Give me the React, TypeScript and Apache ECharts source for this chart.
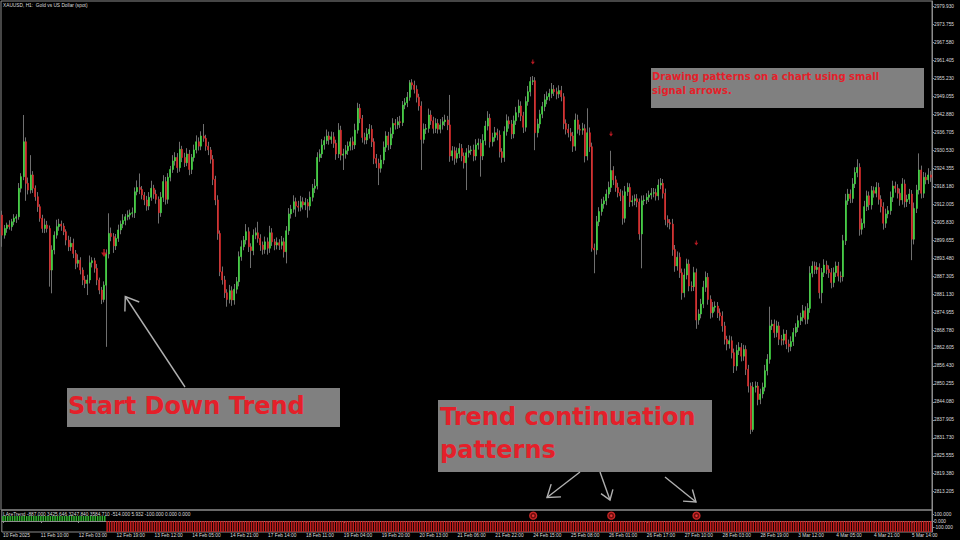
import React, { useEffect, useRef } from 'react';
import * as echarts from 'echarts';

// ---------- data ----------
const FIRST_OPEN = 2908.3;

const CLOSES: number[] = [
  2901.4, 2903.7, 2904.9, 2904.3, 2906.0, 2907.2, 2907.7, 2917.5, 2921.5, 2933.5,
  2919.2, 2916.9, 2922.1, 2917.5, 2914.6, 2911.2, 2907.2, 2903.7, 2904.9, 2903.7,
  2889.4, 2896.3, 2901.4, 2904.3, 2905.2, 2904.5, 2902.6, 2899.7, 2897.4, 2898.6,
  2895.1, 2891.7, 2892.8, 2889.4, 2886.0, 2884.8, 2886.0, 2891.9, 2892.6, 2890.0,
  2886.0, 2882.5, 2879.3, 2884.2, 2894.9, 2902.0, 2900.9, 2897.7, 2900.3, 2903.2,
  2905.2, 2906.4, 2907.7, 2908.3, 2908.9, 2909.1, 2916.3, 2917.8, 2917.1, 2915.2,
  2913.5, 2911.4, 2914.4, 2917.5, 2915.5, 2913.7, 2909.1, 2914.4, 2919.8, 2913.7,
  2921.3, 2924.0, 2926.9, 2928.1, 2924.6, 2930.9, 2928.1, 2926.3, 2929.3, 2924.0,
  2928.1, 2930.7, 2933.5, 2932.0, 2935.5, 2934.7, 2932.0, 2930.7, 2927.5, 2920.6,
  2913.5, 2902.0, 2888.8, 2886.0, 2881.6, 2879.3, 2882.3, 2879.1, 2882.8, 2885.4,
  2894.0, 2897.4, 2899.7, 2902.6, 2897.4, 2896.1, 2901.4, 2902.2, 2900.3, 2898.0,
  2896.5, 2899.1, 2896.9, 2902.2, 2899.1, 2898.0, 2898.8, 2897.9, 2899.1, 2895.7,
  2902.9, 2908.7, 2910.3, 2912.9, 2911.4, 2911.0, 2912.9, 2911.8, 2912.6, 2911.4,
  2914.4, 2917.5, 2918.3, 2928.1, 2929.3, 2932.4, 2933.9, 2935.5, 2934.3, 2935.2,
  2933.0, 2929.3, 2937.5, 2928.9, 2929.3, 2930.4, 2932.0, 2933.5, 2932.4, 2937.5,
  2945.0, 2941.5, 2935.0, 2934.1, 2936.2, 2937.8, 2933.5, 2927.8, 2926.1, 2924.4,
  2927.2, 2931.6, 2935.5, 2932.4, 2936.2, 2939.8, 2939.3, 2940.4, 2940.1, 2946.1,
  2946.9, 2948.8, 2953.8, 2953.0, 2951.5, 2948.8, 2945.8, 2934.3, 2937.8, 2938.1,
  2942.7, 2940.7, 2938.1, 2939.8, 2937.8, 2939.3, 2940.4, 2941.0, 2939.3, 2928.6,
  2930.4, 2927.8, 2929.5, 2931.2, 2928.6, 2926.3, 2929.7, 2930.4, 2930.7, 2928.6,
  2932.4, 2933.0, 2928.6, 2933.9, 2938.9, 2941.6, 2933.5, 2935.0, 2936.6, 2935.8,
  2930.1, 2928.1, 2937.0, 2940.7, 2939.6, 2936.2, 2940.7, 2943.5, 2945.8, 2942.4,
  2938.5, 2947.3, 2950.7, 2954.2, 2954.5, 2936.6, 2939.6, 2943.0, 2945.6, 2947.9,
  2949.0, 2950.1, 2951.5, 2950.7, 2949.9, 2951.1, 2949.0, 2939.8, 2937.8, 2936.6,
  2935.5, 2932.0, 2941.0, 2937.8, 2937.5, 2938.0, 2928.6, 2936.6, 2931.8, 2896.9,
  2896.3, 2906.0, 2909.5, 2912.1, 2913.2, 2915.5, 2917.8, 2923.6, 2920.4, 2917.8,
  2916.0, 2914.9, 2907.2, 2916.3, 2917.8, 2912.9, 2913.2, 2913.9, 2912.8, 2901.8,
  2913.2, 2913.5, 2914.4, 2915.2, 2915.8, 2916.0, 2914.9, 2918.6, 2919.2, 2915.8,
  2906.8, 2905.7, 2905.2, 2896.5, 2890.8, 2893.8, 2888.5, 2881.6, 2887.7, 2891.5,
  2883.9, 2883.7, 2888.5, 2872.2, 2874.3, 2877.7, 2883.5, 2886.9, 2879.3, 2874.7,
  2876.6, 2877.0, 2874.7, 2873.6, 2870.2, 2865.6, 2864.0, 2865.1, 2861.0, 2856.4,
  2861.7, 2862.8, 2859.8, 2862.1, 2855.3, 2849.5, 2834.6, 2849.1, 2849.5, 2844.9,
  2846.8, 2849.1, 2854.8, 2858.7, 2870.2, 2870.8, 2867.9, 2870.2, 2865.6, 2865.3,
  2867.4, 2864.0, 2863.1, 2864.8, 2867.9, 2869.7, 2872.0, 2873.1, 2875.4, 2872.5,
  2876.2, 2888.3, 2890.8, 2889.6, 2890.3, 2881.6, 2888.5, 2891.1, 2889.6, 2888.5,
  2885.1, 2888.5, 2890.8, 2887.3, 2887.1, 2899.5, 2913.2, 2915.5, 2914.0, 2919.0,
  2922.9, 2924.7, 2903.4, 2905.5, 2911.2, 2914.9, 2911.8, 2916.7, 2915.8, 2917.8,
  2913.7, 2911.2, 2905.5, 2908.7, 2909.8, 2914.4, 2918.3, 2917.5, 2915.8, 2913.5,
  2919.0, 2912.9, 2913.7, 2915.5, 2900.0, 2910.6, 2916.9, 2923.8, 2915.8, 2921.3,
  2920.4, 2922.1, 2921.3,
];

const UPPER_WICK: number[] = [
  1.5, 1.2, 0.8, 1.6, 1.0, 1.4, 0.9, 1.8, 1.2, 9.2,
  1.5, 2.0, 6.8, 1.3, 1.0, 1.6, 0.8, 1.2, 2.2, 1.4,
  1.0, 1.6, 1.3, 2.4, 1.8, 1.2, 1.0, 0.8, 1.5, 2.2,
  1.6, 1.2, 2.0, 1.0, 0.9, 1.4, 1.8, 2.5, 1.2, 1.0,
  1.5, 0.8, 1.1, 1.3, 1.6, 6.9, 2.0, 1.2, 1.5, 1.8,
  1.2, 2.2, 1.0, 1.6, 1.3, 1.8, 1.5, 2.4, 4.8, 1.2,
  1.0, 1.4, 1.8, 2.6, 1.2, 1.5, 1.0, 1.8, 2.2, 1.6,
  1.4, 1.2, 2.0, 1.8, 1.5, 2.6, 1.2, 1.6, 2.0, 1.4,
  1.2, 1.8, 2.2, 1.5, 1.6, 4.1, 1.2, 1.5, 1.0, 1.4,
  1.2, 1.6, 1.0, 1.8, 1.4, 1.2, 2.0, 1.5, 1.8, 1.6,
  1.8, 2.2, 1.4, 2.6, 1.5, 1.2, 2.0, 1.8, 3.8, 1.4,
  1.2, 1.8, 1.5, 2.4, 1.6, 1.0, 1.8, 1.2, 2.0, 1.4,
  1.6, 2.0, 1.5, 2.2, 1.4, 1.8, 2.0, 1.5, 1.6, 1.2,
  2.0, 1.5, 2.4, 1.8, 1.6, 2.0, 1.4, 2.2, 1.5, 1.8,
  1.6, 1.2, 2.4, 1.5, 1.8, 2.0, 1.6, 1.4, 1.8, 2.2,
  1.9, 1.5, 1.2, 1.6, 2.0, 1.8, 1.4, 1.2, 1.5, 1.6,
  1.8, 2.0, 1.6, 1.4, 2.2, 1.8, 1.5, 1.6, 2.0, 1.4,
  1.6, 1.8, 0.9, 1.2, 1.5, 1.4, 1.2, 1.6, 2.0, 1.5,
  2.2, 1.6, 1.4, 1.8, 1.5, 2.0, 1.6, 1.8, 1.4, 10.3,
  1.6, 1.4, 2.0, 1.8, 1.5, 1.2, 1.6, 2.0, 1.4, 1.8,
  2.0, 1.6, 1.4, 2.2, 1.8, 2.4, 1.5, 1.6, 2.0, 1.4,
  1.6, 1.2, 1.8, 2.2, 1.5, 1.4, 1.8, 2.0, 2.2, 1.6,
  1.4, 1.8, 2.0, 1.6, 1.6, 1.2, 1.8, 1.5, 1.6, 2.0,
  1.8, 1.6, 2.2, 1.5, 1.4, 1.8, 1.6, 1.2, 1.4, 1.8,
  1.6, 1.4, 2.2, 1.8, 1.6, 2.0, 1.5, 8.4, 1.8, 1.4,
  1.6, 2.0, 1.5, 1.8, 1.4, 1.6, 2.0, 6.8, 1.5, 1.4,
  1.6, 1.2, 1.8, 2.0, 1.6, 1.4, 1.8, 1.5, 1.6, 1.2,
  1.8, 1.6, 1.4, 1.5, 1.8, 1.6, 1.4, 2.0, 1.8, 1.5,
  1.6, 1.4, 1.2, 1.8, 1.5, 2.0, 1.6, 1.4, 2.2, 1.8,
  1.5, 1.6, 2.0, 1.4, 1.6, 1.8, 2.2, 2.0, 1.5, 1.4,
  1.8, 1.6, 1.4, 1.5, 1.6, 1.4, 1.2, 1.8, 1.5, 1.4,
  2.0, 1.8, 1.5, 1.6, 1.4, 1.5, 1.2, 1.8, 1.6, 1.4,
  1.8, 1.6, 2.0, 1.8, 6.6, 1.5, 1.6, 1.8, 1.4, 1.5,
  1.6, 1.4, 1.5, 1.8, 1.6, 1.4, 1.8, 1.6, 2.0, 1.5,
  1.8, 2.4, 1.6, 1.5, 1.8, 1.4, 1.6, 2.0, 1.5, 1.4,
  1.6, 1.8, 1.5, 1.4, 1.6, 2.0, 2.4, 1.8, 1.6, 2.0,
  1.8, 2.8, 1.4, 1.6, 2.0, 1.8, 1.5, 1.6, 1.4, 1.8,
  1.6, 1.4, 1.5, 1.8, 1.6, 2.0, 1.8, 1.5, 1.4, 1.6,
  2.0, 1.5, 1.6, 1.8, 1.4, 2.0, 1.8, 5.7, 1.5, 1.8,
  1.6, 2.3, 1.4,
];

const LOWER_WICK: number[] = [
  4.0, 1.2, 1.5, 1.0, 1.4, 1.2, 1.6, 1.0, 1.4, 1.2,
  6.0, 1.5, 1.2, 1.6, 1.4, 1.8, 1.2, 1.5, 1.6, 1.4,
  5.7, 8.0, 1.5, 1.2, 1.4, 1.6, 1.2, 1.8, 1.5, 1.4,
  1.6, 2.0, 1.4, 1.5, 1.8, 1.6, 4.0, 1.2, 1.6, 1.5,
  1.8, 1.4, 1.6, 1.0, 21.2, 1.5, 1.6, 2.4, 1.4, 1.2,
  1.5, 1.4, 1.6, 1.2, 1.5, 1.4, 1.8, 1.2, 1.6, 1.5,
  1.8, 1.6, 1.4, 1.2, 1.6, 1.5, 3.7, 1.4, 1.6, 1.8,
  1.5, 1.4, 1.2, 1.6, 1.8, 1.4, 1.6, 1.5, 1.2, 2.0,
  1.6, 1.4, 1.2, 1.5, 1.4, 1.2, 1.6, 1.8, 1.5, 2.0,
  1.8, 2.2, 1.5, 1.6, 1.8, 2.5, 1.4, 2.0, 1.6, 1.5,
  1.6, 1.4, 1.2, 1.5, 1.8, 6.0, 1.6, 1.4, 1.5, 2.0,
  1.8, 1.5, 2.2, 1.6, 1.4, 1.8, 1.5, 1.6, 1.4, 2.0,
  4.0, 1.4, 1.6, 1.2, 3.7, 1.5, 1.4, 1.6, 1.8, 4.0,
  1.5, 1.4, 1.6, 1.2, 1.5, 1.4, 1.6, 1.2, 1.8, 1.5,
  1.6, 2.0, 1.4, 1.8, 5.1, 1.6, 1.4, 1.5, 1.8, 1.4,
  1.2, 1.6, 1.8, 1.5, 1.4, 1.6, 1.8, 2.0, 1.6, 5.8,
  1.5, 1.4, 1.6, 1.8, 1.4, 1.5, 1.6, 1.4, 1.8, 1.2,
  1.4, 1.5, 1.2, 1.6, 1.4, 1.8, 1.6, 10.5, 1.4, 1.6,
  1.5, 1.4, 1.8, 1.6, 1.5, 1.4, 1.6, 1.5, 1.8, 2.0,
  1.6, 2.2, 1.5, 1.6, 1.8, 2.0, 9.4, 1.6, 1.4, 1.8,
  1.5, 1.6, 7.1, 1.4, 1.6, 1.5, 2.0, 1.6, 1.4, 1.8,
  2.0, 1.8, 1.5, 1.4, 1.6, 1.8, 1.5, 1.4, 1.6, 1.8,
  2.0, 1.5, 1.4, 1.6, 1.2, 6.0, 1.6, 1.5, 1.4, 1.6,
  1.5, 1.4, 1.6, 1.5, 1.8, 1.4, 1.6, 2.0, 1.8, 1.6,
  1.8, 2.0, 1.6, 1.5, 1.8, 1.6, 2.2, 1.5, 1.8, 1.2,
  8.0, 1.6, 1.5, 1.4, 1.6, 1.5, 1.4, 1.6, 1.8, 1.5,
  1.6, 1.8, 2.2, 1.5, 1.4, 1.8, 1.6, 1.5, 1.8, 2.0,
  11.8, 1.5, 1.4, 1.6, 1.5, 1.4, 1.6, 1.5, 1.4, 1.8,
  2.0, 1.6, 1.8, 2.2, 2.0, 1.6, 1.8, 2.4, 1.6, 1.5,
  1.8, 1.6, 1.5, 3.0, 1.6, 1.5, 1.4, 1.6, 1.8, 2.0,
  1.6, 1.5, 1.8, 1.6, 2.0, 1.8, 2.2, 1.6, 2.0, 2.4,
  1.6, 1.5, 1.8, 1.6, 2.0, 2.2, 1.6, 0.8, 1.8, 2.0,
  1.6, 1.5, 1.4, 1.6, 1.5, 1.4, 1.8, 1.6, 2.0, 1.8,
  1.6, 1.8, 2.0, 1.6, 1.5, 1.4, 1.6, 1.5, 1.4, 1.8,
  1.6, 1.5, 1.4, 1.6, 1.5, 2.0, 3.6, 1.5, 1.6, 1.8,
  2.0, 1.6, 1.5, 1.8, 2.0, 1.6, 1.5, 1.4, 1.6, 1.5,
  1.4, 1.6, 2.2, 1.8, 1.6, 1.5, 1.8, 1.6, 1.5, 1.4,
  1.8, 2.0, 2.2, 1.6, 1.5, 1.4, 1.6, 1.5, 1.8, 2.0,
  1.6, 2.0, 1.8, 1.6, 7.2, 1.8, 1.6, 1.5, 1.8, 1.6,
  1.5, 1.4, 1.6,
];

const TIME_LABELS: string[] = [
  '10 Feb 2025', '11 Feb 10:00', '12 Feb 03:00', '12 Feb 19:00', '13 Feb 12:00',
  '14 Feb 05:00', '14 Feb 21:00', '17 Feb 14:00', '18 Feb 11:00', '19 Feb 04:00',
  '19 Feb 20:00', '20 Feb 13:00', '21 Feb 06:00', '21 Feb 22:00', '24 Feb 15:00',
  '25 Feb 08:00', '26 Feb 01:00', '26 Feb 17:00', '27 Feb 10:00', '28 Feb 03:00',
  '28 Feb 19:00', '3 Mar 12:00', '4 Mar 05:00', '4 Mar 21:00', '5 Mar 14:00',
];
const BARS_PER_LABEL = 16;

const PRICE_TICKS: number[] = [
  2979.93, 2973.755, 2967.58, 2961.405, 2955.23, 2949.055, 2942.88, 2936.705,
  2930.53, 2924.355, 2918.18, 2912.005, 2905.83, 2899.655, 2893.48, 2887.305,
  2881.13, 2874.955, 2868.78, 2862.605, 2856.43, 2850.255, 2844.08, 2837.905,
  2831.73, 2825.555, 2819.38, 2813.205,
];
const PRICE_MIN = 2806.91;
const PRICE_MAX = 2981.89;

const SUB_TICKS: number[] = [100, 0, -100];
const SUB_MIN = -165;
const SUB_MAX = 165;
// indicator histogram as runs: [number of bars, value]
const TREND_RUNS: [number, number][] = [[44, 75], [349, -165]];

const SIGNAL_BARS: number[] = [43, 224, 257, 293];
const SIGNAL_PRICES: number[] = [2895.3, 2960.9, 2936.2, 2898.7];
const DOT_BARS: number[] = [224, 257, 293];
const DOT_LEVEL = 80;

const TITLE = 'XAUUSD, H1:  Gold vs US Dollar (spot)';
const INDICATOR_TEXT =
  'LAreTrend -887.000 3425.646 3247.840 3584.710 -514.000 5.932 -100.000 0.000 0.000';
const NOTE_LINES = ['Drawing patterns on a chart using small', 'signal arrows.'];
const START_TEXT = 'Start Down Trend';
const CONT_LINES = ['Trend continuation', 'patterns'];

// ---------- styles ----------
const BULL = '#44dd44';
const BEAR = '#e02c2c';
const WICK = '#7c7c7c';
const AXIS = '#8c8c8c';
const LABEL = '#dedede';
const NOTE_RED = '#e4202a';
const BOX = '#808080';
const ARROW = '#b0b0b0';
const SMALL_FONT = 4.8;

function arrow(tail: number[], tip: number[], len: number, deg: number) {
  const a = Math.atan2(tail[1] - tip[1], tail[0] - tip[0]);
  const r = (deg * Math.PI) / 180;
  const p1 = [tip[0] + len * Math.cos(a + r), tip[1] + len * Math.sin(a + r)];
  const p2 = [tip[0] + len * Math.cos(a - r), tip[1] + len * Math.sin(a - r)];
  return [
    { type: 'line', z: 100, shape: { x1: tail[0], y1: tail[1], x2: tip[0], y2: tip[1] }, style: { stroke: ARROW, lineWidth: 1.4 } },
    { type: 'polyline', z: 100, shape: { points: [p1, tip, p2] }, style: { stroke: ARROW, lineWidth: 1.4, fill: 'none' } },
  ];
}

export default function App() {
  const ref = useRef<HTMLDivElement>(null);

  useEffect(() => {
    const el = ref.current;
    if (!el) return;
    const chart = echarts.init(el, null, { renderer: 'svg' });

    const n = CLOSES.length;
    const cats = CLOSES.map((_, i) => String(i));
    const wickData: number[][] = [];
    const bodyData: number[][] = [];
    for (let i = 0; i < n; i++) {
      const o = i === 0 ? FIRST_OPEN : CLOSES[i - 1];
      const c = CLOSES[i];
      const top = Math.max(o, c);
      const bot = Math.min(o, c);
      wickData.push([o, c, bot - LOWER_WICK[i], top + UPPER_WICK[i]]);
      bodyData.push([o, c, bot, top]);
    }
    const trend: any[] = [];
    TREND_RUNS.forEach(([len, v]) => {
      for (let k = 0; k < len; k++) {
        trend.push({ value: v, itemStyle: { color: v > 0 ? '#2fb52f' : '#c81e1e' } });
      }
    });

    const arrowPath = 'path://M3,0 L5,0 L5,4 L8,4 L4,9 L0,4 L3,4 Z';

    const option: any = {
      animation: false,
      backgroundColor: '#000000',
      grid: [
        { left: 1, right: 28, top: 1, height: 509, show: true, borderColor: AXIS, borderWidth: 1, backgroundColor: 'transparent' },
        { left: 1, right: 28, top: 510, height: 22, show: true, borderColor: AXIS, borderWidth: 1, backgroundColor: 'transparent' },
      ],
      xAxis: [
        { type: 'category', gridIndex: 0, data: cats, show: false, boundaryGap: true },
        {
          type: 'category', gridIndex: 1, data: cats, boundaryGap: true,
          axisLine: { show: true, lineStyle: { color: AXIS, width: 1 } },
          axisTick: { show: true, interval: BARS_PER_LABEL - 1, alignWithLabel: true, length: 2, lineStyle: { color: AXIS } },
          axisLabel: {
            interval: BARS_PER_LABEL - 1,
            align: 'left',
            margin: 1,
            color: LABEL,
            fontSize: SMALL_FONT,
            fontFamily: 'Liberation Sans',
            formatter: (_v: string, idx: number) =>
              idx % BARS_PER_LABEL === 0 ? TIME_LABELS[idx / BARS_PER_LABEL] || '' : '',
          },
          splitLine: { show: false },
        },
      ],
      yAxis: [
        {
          type: 'value', gridIndex: 0, position: 'right', min: PRICE_MIN, max: PRICE_MAX,
          axisLine: { show: true, lineStyle: { color: AXIS } },
          axisTick: { show: true, length: 2, customValues: PRICE_TICKS, lineStyle: { color: AXIS } },
          axisLabel: {
            customValues: PRICE_TICKS,
            color: LABEL, fontSize: SMALL_FONT, fontFamily: 'Liberation Sans', margin: 2,
            formatter: (v: number) => v.toFixed(3),
          },
          splitLine: { show: false },
        },
        {
          type: 'value', gridIndex: 1, position: 'right', min: SUB_MIN, max: SUB_MAX,
          axisLine: { show: true, lineStyle: { color: AXIS } },
          axisTick: { show: true, length: 2, customValues: SUB_TICKS, lineStyle: { color: AXIS } },
          axisLabel: {
            customValues: SUB_TICKS,
            color: LABEL, fontSize: SMALL_FONT, fontFamily: 'Liberation Sans', margin: 2,
            formatter: (v: number) => v.toFixed(3),
          },
          splitLine: { show: false },
        },
      ],
      series: [
        {
          type: 'candlestick', xAxisIndex: 0, yAxisIndex: 0, data: wickData, barWidth: 0.3,
          itemStyle: { color: WICK, color0: WICK, borderColor: WICK, borderColor0: WICK, borderWidth: 0.9 },
          silent: true,
        },
        {
          type: 'candlestick', xAxisIndex: 0, yAxisIndex: 0, data: bodyData, barWidth: 1.5,
          itemStyle: { color: BULL, color0: BEAR, borderColor: BULL, borderColor0: BEAR, borderWidth: 0.6 },
          silent: true,
        },
        {
          type: 'scatter', xAxisIndex: 0, yAxisIndex: 0,
          data: SIGNAL_BARS.map((b, k) => ({
            value: [b, SIGNAL_PRICES[k]],
            symbolSize: k === 0 ? [6, 8] : [4, 5],
          })),
          symbol: arrowPath,
          itemStyle: { color: '#e3202a' },
          silent: true, z: 5,
        },
        {
          type: 'bar', xAxisIndex: 1, yAxisIndex: 1, data: trend, barWidth: 1.5, silent: true,
        },
        {
          type: 'scatter', xAxisIndex: 1, yAxisIndex: 1,
          data: DOT_BARS.map((b) => [b, DOT_LEVEL]),
          symbol: 'circle', symbolSize: 7,
          itemStyle: { color: '#8a1010', borderColor: '#f03030', borderWidth: 1.3 },
          silent: true, z: 5,
        },
        {
          type: 'scatter', xAxisIndex: 1, yAxisIndex: 1,
          data: DOT_BARS.map((b) => [b, DOT_LEVEL]),
          symbol: 'circle', symbolSize: 2.5,
          itemStyle: { color: '#ff4040' },
          silent: true, z: 6,
        },
      ],
      graphic: [
        { type: 'text', x: 3, y: 5, z: 100, style: { text: TITLE, fill: LABEL, font: `${SMALL_FONT}px "Liberation Sans"`, align: 'left', verticalAlign: 'middle' } },
        { type: 'text', x: 3, y: 514.7, z: 100, style: { text: INDICATOR_TEXT, fill: LABEL, font: `${SMALL_FONT}px "Liberation Sans"`, align: 'left', verticalAlign: 'middle' } },

        { type: 'rect', z: 90, shape: { x: 651, y: 68, width: 273, height: 40 }, style: { fill: BOX } },
        { type: 'text', x: 652, y: 76, z: 100, style: { text: NOTE_LINES[0], fill: NOTE_RED, font: 'bold 10px "DejaVu Sans"', align: 'left', verticalAlign: 'middle' } },
        { type: 'text', x: 652, y: 90.5, z: 100, style: { text: NOTE_LINES[1], fill: NOTE_RED, font: 'bold 10px "DejaVu Sans"', align: 'left', verticalAlign: 'middle' } },

        { type: 'rect', z: 90, shape: { x: 67, y: 388, width: 273, height: 39 }, style: { fill: BOX } },
        { type: 'text', x: 68, y: 406, z: 100, style: { text: START_TEXT, fill: NOTE_RED, font: 'bold 24px "DejaVu Sans"', align: 'left', verticalAlign: 'middle' } },

        { type: 'rect', z: 90, shape: { x: 438, y: 400, width: 274, height: 72 }, style: { fill: BOX } },
        { type: 'text', x: 440, y: 417, z: 100, style: { text: CONT_LINES[0], fill: NOTE_RED, font: 'bold 24px "DejaVu Sans"', align: 'left', verticalAlign: 'middle' } },
        { type: 'text', x: 440, y: 450, z: 100, style: { text: CONT_LINES[1], fill: NOTE_RED, font: 'bold 24px "DejaVu Sans"', align: 'left', verticalAlign: 'middle' } },

        ...arrow([185, 387], [125.3, 296.5], 15, 35),
        ...arrow([580, 472], [547, 497.5], 14, 35),
        ...arrow([600, 472], [610, 500], 11, 35),
        ...arrow([665, 477], [696, 502], 13, 35),
      ],
    };

    chart.setOption(option);
    return () => {
      chart.dispose();
    };
  }, []);

  return (
    <div
      ref={ref}
      style={{ position: 'fixed', left: 0, top: 0, width: 960, height: 540, background: '#000' }}
    />
  );
}
